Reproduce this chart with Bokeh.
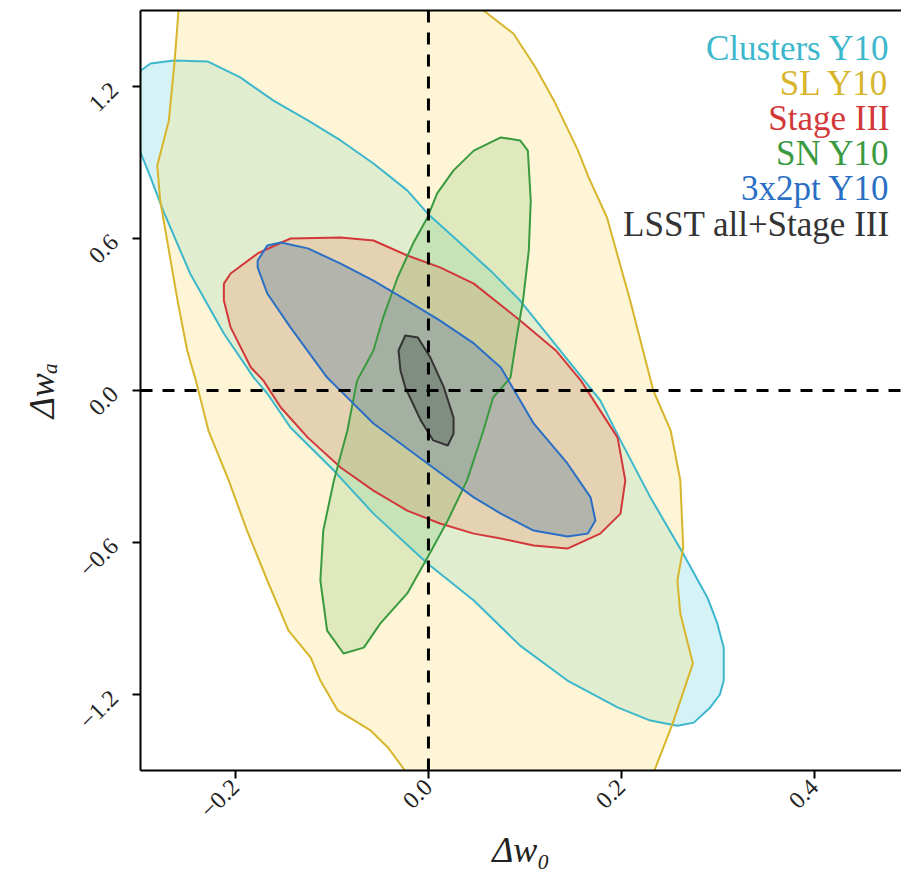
import math
from bokeh.plotting import figure
from bokeh.models import Range1d, FixedTicker, Span, Label, LinearAxis
from bokeh.embed import file_html
from bokeh.resources import INLINE

# ---- data (contour outlines, in (Δw0, Δwa)) ----
sl_x = [-0.261, -0.259, -0.263, -0.269, -0.281, -0.278, -0.269, -0.260, -0.250, -0.241,
        -0.228, -0.207, -0.188, -0.167, -0.145, -0.122, -0.112, -0.094, -0.060, -0.042,
        -0.026, -0.017,
        0.225, 0.235, 0.253, 0.274, 0.261, 0.258, 0.264, 0.261, 0.251, 0.233, 0.209,
        0.185, 0.166, 0.155, 0.130, 0.111, 0.088, 0.057, 0.044]
sl_y = [1.579, 1.500, 1.303, 1.066, 0.888, 0.750, 0.553, 0.355, 0.158, 0.039,
        -0.158, -0.355, -0.553, -0.750, -0.948, -1.054, -1.145, -1.263, -1.342, -1.409,
        -1.492, -1.579,
        -1.579, -1.492, -1.315, -1.078, -0.880, -0.750, -0.620, -0.355, -0.158, 0.0, 0.355,
        0.683, 0.841, 0.947, 1.145, 1.275, 1.409, 1.500, 1.579]

cl_x = [-0.298, -0.288, -0.275, -0.247, -0.212, -0.181, -0.167, -0.143, -0.098, -0.057,
        -0.001, 0.047, 0.095, 0.144, 0.196, 0.230, 0.258, 0.275, 0.292, 0.302, 0.306, 0.306,
        0.299, 0.289, 0.264, 0.230, 0.199, 0.178, 0.095, 0.064, 0.030, -0.001, -0.022, -0.057,
        -0.091, -0.125, -0.161, -0.195, -0.229, -0.264, -0.288, -0.298, -0.314]
cl_y = [0.936, 0.841, 0.711, 0.462, 0.225, 0.051, -0.012, -0.146, -0.316, -0.486,
        -0.683, -0.829, -1.007, -1.145, -1.251, -1.303, -1.323, -1.311, -1.251, -1.200, -1.145, -1.015,
        -0.915, -0.817, -0.644, -0.422, -0.197, -0.039, 0.355, 0.474, 0.592, 0.699, 0.790, 0.896,
        0.987, 1.066, 1.145, 1.236, 1.299, 1.303, 1.291, 1.263, 1.145]

s3_x = [-0.212, -0.212, -0.205, -0.177, -0.143, -0.091, -0.057, -0.022, 0.012, 0.047,
        0.082, 0.095, 0.132, 0.158, 0.196, 0.204, 0.199, 0.178, 0.144, 0.109, 0.075,
        0.047, 0.012, -0.022, -0.057, -0.091, -0.125, -0.153, -0.171, -0.184, -0.205]
s3_y = [0.355, 0.422, 0.462, 0.541, 0.600, 0.604, 0.592, 0.533, 0.486, 0.422,
        0.316, 0.276, 0.158, 0.039, -0.186, -0.355, -0.486, -0.565, -0.624, -0.612, -0.584,
        -0.565, -0.525, -0.474, -0.395, -0.304, -0.186, -0.067, 0.039, 0.091, 0.249]

sn_x = [0.075, 0.095, 0.103, 0.106, 0.104, 0.098, 0.092, 0.085, 0.067, 0.057, 0.040,
        0.020, -0.001, -0.022, -0.050, -0.067, -0.088, -0.105, -0.112, -0.109, -0.098,
        -0.084, -0.074, -0.057, -0.047, -0.032, -0.016, -0.001, 0.009, 0.026, 0.047]
sn_y = [0.999, 0.987, 0.947, 0.750, 0.553, 0.355, 0.225, 0.051, -0.028, -0.158, -0.355,
        -0.513, -0.659, -0.801, -0.920, -1.015, -1.038, -0.948, -0.750, -0.553, -0.355,
        -0.158, 0.039, 0.158, 0.288, 0.446, 0.580, 0.683, 0.778, 0.869, 0.947]

p3_x = [-0.177, -0.167, -0.153, -0.125, -0.091, -0.057, -0.022, 0.012, 0.047, 0.075,
        0.109, 0.144, 0.168, 0.173, 0.165, 0.144, 0.109, 0.075, 0.047, -0.001, -0.057,
        -0.084, -0.105, -0.143, -0.167, -0.177]
p3_y = [0.513, 0.572, 0.584, 0.561, 0.501, 0.434, 0.355, 0.276, 0.186, 0.091,
        -0.130, -0.288, -0.422, -0.513, -0.565, -0.576, -0.553, -0.486, -0.422, -0.288, -0.130,
        -0.028, 0.051, 0.249, 0.383, 0.486]

all_x = [-0.024, -0.031, -0.029, -0.024, -0.008, 0.005, 0.020, 0.026, 0.026, 0.016, 0.002, -0.011]
all_y = [0.217, 0.158, 0.079, 0.012, -0.118, -0.197, -0.217, -0.170, -0.107, 0.012, 0.130, 0.209]

labels = ["Clusters Y10", "SL Y10", "Stage III", "SN Y10", "3x2pt Y10", "LSST all+Stage III"]
x_ticks = [-0.2, 0.0, 0.2, 0.4]
x_tick_labels = ["\u22120.2", "0.0", "0.2", "0.4"]
y_ticks = [-1.2, -0.6, 0.0, 0.6, 1.2]
y_tick_labels = ["\u22121.2", "\u22120.6", "0.0", "0.6", "1.2"]

# ---- styles ----
SERIF = "Liberation Serif"
line_cols = ["#3cb7cc", "#d7b52c", "#d2383a", "#3a9a3f", "#2a6fc4", "#333333"]
fill_cols = ["#17becf", "#f8df78", "#e8b896", "#2ca02c", "#7893a6", "#2f3f38"]
fill_alp = [0.18, 0.31, 0.5, 0.14, 0.45, 0.3]

p = figure(frame_width=761, frame_height=760, x_range=Range1d(-0.2984, 0.4902), y_range=Range1d(-1.5, 1.5),
           output_backend="svg", toolbar_location=None,
           min_border_left=140, min_border_right=0, min_border_top=10, min_border_bottom=100)
p.grid.visible = False
p.outline_line_color = None
p.background_fill_color = "white"
p.border_fill_color = "white"

shapes = [(cl_x, cl_y), (sl_x, sl_y), (s3_x, s3_y), (sn_x, sn_y), (p3_x, p3_y), (all_x, all_y)]
for (xs, ys), fc, fa in zip(shapes, fill_cols, fill_alp):
    p.patch(xs, ys, fill_color=fc, fill_alpha=fa, line_color=None)
for (xs, ys), lc in zip(shapes, line_cols):
    p.patch(xs, ys, fill_color=None, line_color=lc, line_width=2)

p.add_layout(Span(location=0, dimension="height", line_color="black", line_width=3, line_dash="12 10"))
p.add_layout(Span(location=0, dimension="width", line_color="black", line_width=3, line_dash="12 10"))

for ax, ticks, tl in [(p.xaxis[0], x_ticks, x_tick_labels), (p.yaxis[0], y_ticks, y_tick_labels)]:
    ax.ticker = FixedTicker(ticks=ticks)
    ax.major_label_overrides = {t: l for t, l in zip(ticks, tl)}
    ax.axis_line_width = 2
    ax.axis_line_color = "black"
    ax.major_tick_line_width = 2
    ax.major_tick_out = 8
    ax.major_tick_in = 0
    ax.minor_tick_line_color = None
    ax.major_label_text_font = SERIF
    ax.major_label_text_font_size = "24px"
    ax.major_label_text_color = "#222222"
    ax.major_label_orientation = math.pi / 4
    ax.axis_label_text_font = SERIF
    ax.axis_label_text_font_size = "36px"
    ax.axis_label_text_font_style = "italic"
    ax.axis_label_text_color = "#222222"

p.xaxis[0].axis_label = "\u0394w\u2080"
p.yaxis[0].axis_label = "\u0394w\u2090"
p.xaxis[0].axis_label_standoff = 2
p.yaxis[0].major_label_standoff = 18
p.yaxis[0].axis_label_standoff = 8

top = LinearAxis(ticker=FixedTicker(ticks=[]), axis_line_width=2, axis_line_color="black",
                 major_label_text_font_size="0px", major_tick_line_color=None,
                 minor_tick_line_color=None)
p.add_layout(top, "above")

leg_y = [1.350, 1.212, 1.074, 0.934, 0.796, 0.655]
for lab, col, yy in zip(labels, line_cols, leg_y):
    p.add_layout(Label(x=0.478, y=yy, text=lab, text_align="right", text_baseline="alphabetic",
                       text_font=SERIF, text_font_size="35px", text_color=col))

open("out.html", "w").write(file_html(p, INLINE))
